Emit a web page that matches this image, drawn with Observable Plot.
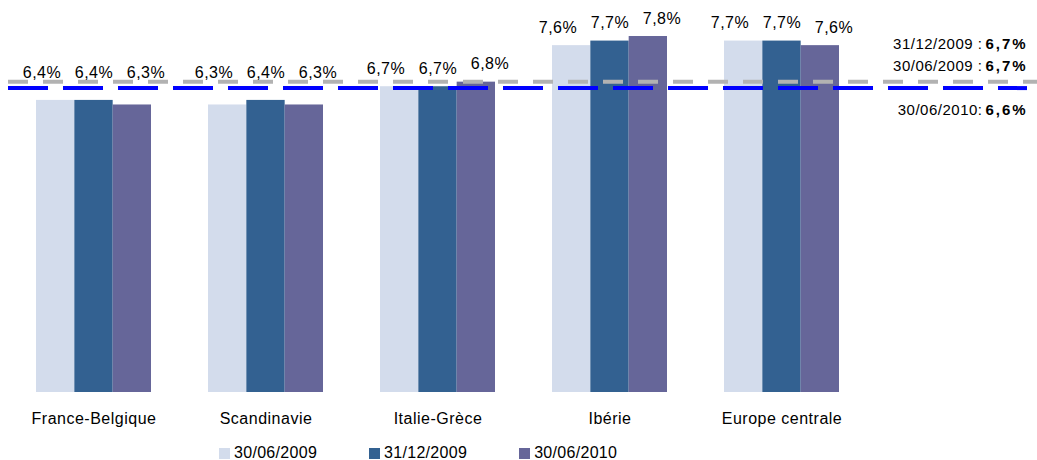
<!DOCTYPE html>
<html><head><meta charset="utf-8">
<script src="https://cdn.jsdelivr.net/npm/d3@7"></script>
<script src="https://cdn.jsdelivr.net/npm/@observablehq/plot@0.6"></script>
<style>
body{margin:0;background:#fff;font-family:"Liberation Sans",Arial,sans-serif;position:relative;width:1037px;height:460px;overflow:hidden;}
#chart svg text{letter-spacing:0.5px;}
#legend{position:absolute;left:219px;top:444px;display:flex;align-items:center;font-size:16px;line-height:18px;color:#000;}
#legend .item{display:flex;align-items:center;margin-right:52px;letter-spacing:0.3px;}
#legend .sw{width:11px;height:11px;margin-right:4px;}
</style></head><body>
<div id="chart"></div>
<div id="legend"></div>
<script>
const categories = ["France-Belgique","Scandinavie","Italie-Grèce","Ibérie","Europe centrale"];
const series = ["30/06/2009","31/12/2009","30/06/2010"];
const values_2009_06 = [6.4, 6.3, 6.7, 7.6, 7.7];
const values_2009_12 = [6.4, 6.4, 6.7, 7.7, 7.7];
const values_2010_06 = [6.3, 6.3, 6.8, 7.8, 7.6];
const colors = ["#D3DCEC","#336191","#666699"];
// reference lines (positions) and their annotation texts
const refGrayValue = 6.81;   // 31/12/2009 and 30/06/2009
const refBlueValue = 6.67;   // 30/06/2010
const refGrayLabels = [["31/12/2009 :","6,7%"],["30/06/2009 :","6,7%"]];
const refBlueLabels = [["30/06/2010:","6,6%"]];

const seriesValues = [values_2009_06, values_2009_12, values_2010_06];
const rows = categories.flatMap((c,i)=>series.map((s,j)=>({category:c, series:s, j, value:seriesValues[j][i]})));

const groupWidth = 115, sub = groupWidth/3, labelSpread = 52;
const fmt = v => v.toFixed(1).replace(".", ",") + "%";

const marks = [];
series.forEach((s,j)=>{
  const data = rows.filter(r=>r.j===j);
  marks.push(Plot.barY(data,{x:"category", y:"value", fill:colors[j], insetLeft:j*sub, insetRight:(2-j)*sub}));
});
marks.push(Plot.ruleY([refGrayValue],{stroke:"#B2B2B2", strokeWidth:4, strokeDasharray:"20,15"}));
marks.push(Plot.ruleY([refBlueValue],{stroke:"#0000FF", strokeWidth:4, strokeDasharray:"40,15", insetRight:10}));
series.forEach((s,j)=>{
  const data = rows.filter(r=>r.j===j);
  marks.push(Plot.text(data,{x:"category", y:d=>Math.max(d.value,6.6), dy:-18, dx:(j-1)*labelSpread, text:d=>fmt(d.value), fontSize:16, fill:"#000"}));
});
// category labels
marks.push(Plot.text(categories,{x:d=>d, y:()=>0, dy:26, text:d=>d, fontSize:16, fill:"#000"}));
const annDy = [-38,-16];
refGrayLabels.forEach(([d,v],k)=>{
  marks.push(Plot.text([refGrayValue],{y:d=>d, frameAnchor:"right", dx:-55, dy:annDy[k], text:()=>d, textAnchor:"end", fontSize:15}));
  marks.push(Plot.text([refGrayValue],{y:d=>d, frameAnchor:"right", dx:-52, dy:annDy[k], text:()=>v, textAnchor:"start", fontSize:15, fontWeight:"bold"}));
});
refBlueLabels.forEach(([d,v])=>{
  marks.push(Plot.text([refBlueValue],{y:d=>d, frameAnchor:"right", dx:-55, dy:22, text:()=>d, textAnchor:"end", fontSize:15}));
  marks.push(Plot.text([refBlueValue],{y:d=>d, frameAnchor:"right", dx:-52, dy:22, text:()=>v, textAnchor:"start", fontSize:15, fontWeight:"bold"}));
});

const chart = Plot.plot({
  width:1037, height:442,
  marginLeft:8, marginRight:0, marginTop:10, marginBottom:50,
  style:{fontSize:"16px", fontFamily:'"Liberation Sans", Arial, sans-serif', background:"#fff", color:"#000"},
  x:{domain:categories, range:[6,869], paddingInner:0.334, paddingOuter:0.167, axis:null},
  y:{domain:[0,8.37], axis:null},
  marks
});
document.getElementById("chart").appendChild(chart);
chart.querySelectorAll("text").forEach(t=>{
  const p = t.parentNode;
  if (t.getAttribute("font-weight")==="bold" || (p && p.getAttribute && p.getAttribute("font-weight")==="bold")) t.style.letterSpacing="2px";
});

const legend = document.getElementById("legend");
series.forEach((s,j)=>{
  const it = document.createElement("div"); it.className="item";
  const sw = document.createElement("div"); sw.className="sw"; sw.style.background=colors[j];
  const tx = document.createElement("span"); tx.textContent=s;
  it.appendChild(sw); it.appendChild(tx); legend.appendChild(it);
});
</script>
</body></html>
